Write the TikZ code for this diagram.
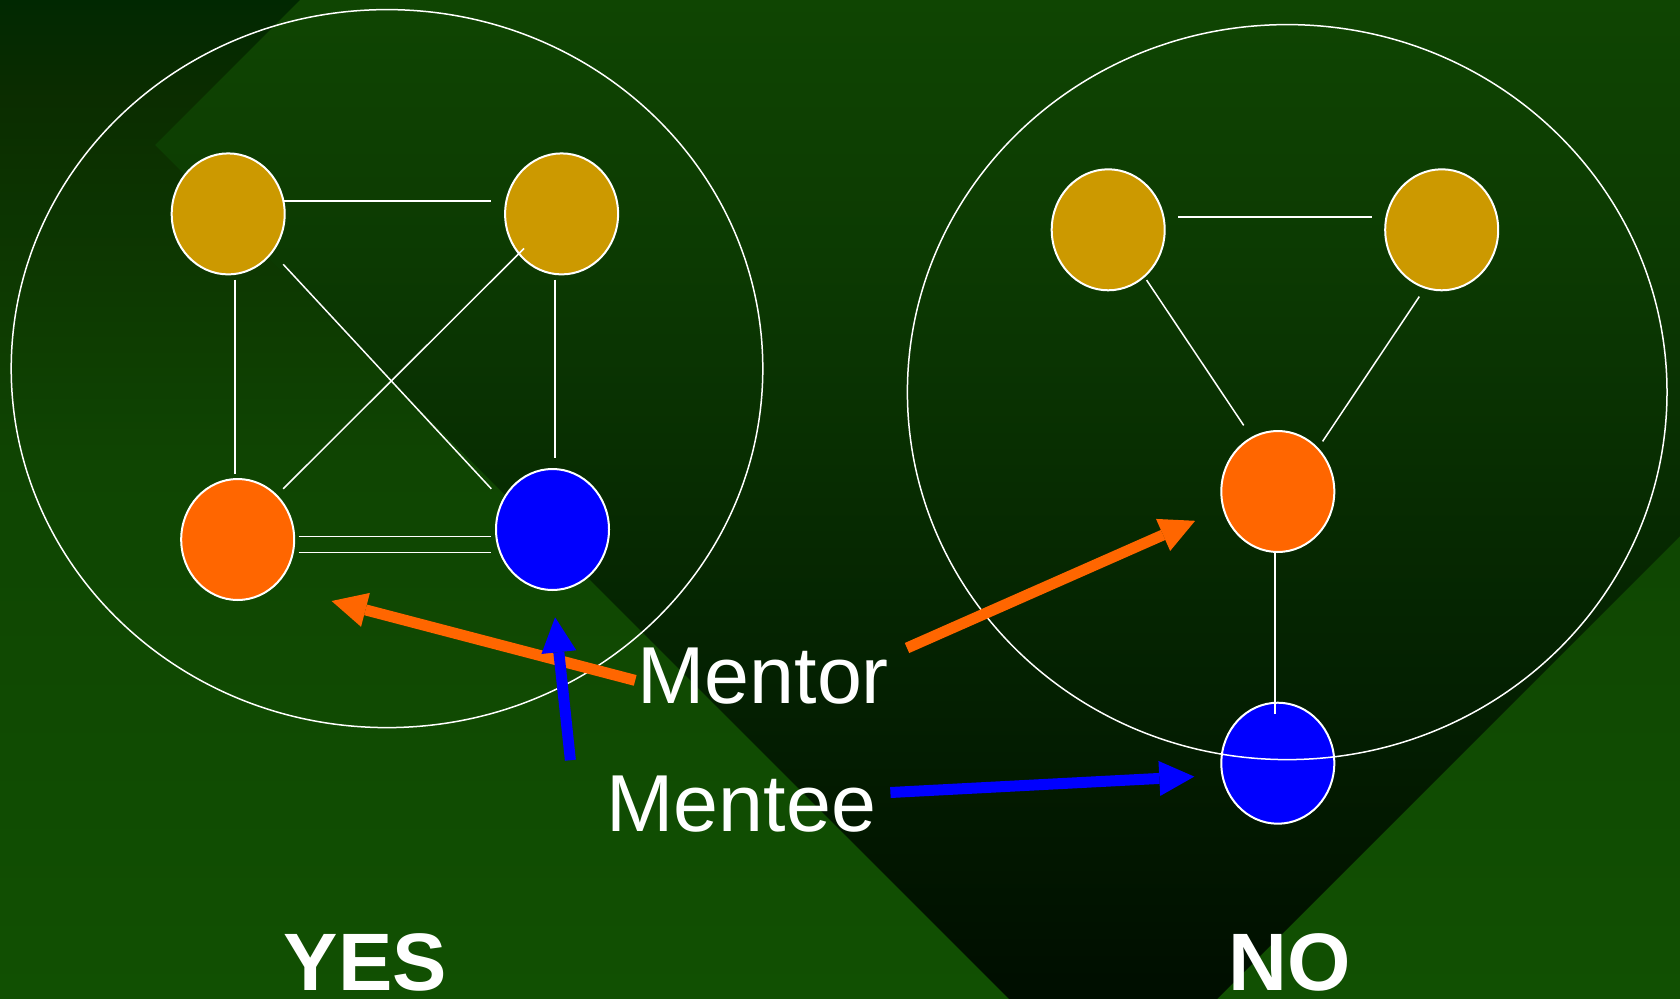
\documentclass[tikz,border=0pt]{standalone}
\usepackage{fontspec}
\setmainfont{Liberation Sans}
\usetikzlibrary{shapes.geometric,arrows.meta,calc}
\definecolor{ob0}{HTML}{115002}
\definecolor{ob1}{HTML}{0F4502}
\definecolor{ob2}{HTML}{0B2D00}
\definecolor{ob3}{HTML}{012801}
\definecolor{ib0}{HTML}{000E00}
\definecolor{ib1}{HTML}{062901}
\definecolor{ib2}{HTML}{0C3A02}
\definecolor{ib3}{HTML}{0F4502}
\definecolor{goldc}{HTML}{CC9900}
\definecolor{orangec}{HTML}{FF6600}
\definecolor{bluec}{HTML}{0000FF}
\pgfdeclareverticalshading{outsh}{100bp}{color(0bp)=(ob0); color(25bp)=(ob0); color(51.6bp)=(ob1); color(70bp)=(ob2); color(75bp)=(ob3); color(100bp)=(ob3)}
\pgfdeclareverticalshading{insh}{100bp}{color(0bp)=(ib0); color(25bp)=(ib0); color(48bp)=(ib1); color(62bp)=(ib2); color(75bp)=(ib3); color(100bp)=(ib3)}
\begin{document}
\begin{tikzpicture}[x=1pt,y=-1pt,
  person/.style={ellipse, draw=white, line width=2pt, minimum width=113pt, minimum height=121pt, inner sep=0pt},
  link/.style={draw=white, line width=1.5pt},
  ring/.style={draw=white, line width=1.5pt},
  pointer/.style={line width=11pt, -{Triangle[length=35pt,width=35pt,line width=0pt]}},
  wordtxt/.style={text=white, inner sep=0pt, font=\fontsize{80.8}{90}\selectfont},
  verdict/.style={text=white, inner sep=0pt, anchor=base, font=\bfseries\fontsize{81.5}{90}\selectfont}]
\useasboundingbox (0,0) rectangle (1680,998);
% background
\shade[shading=outsh] (0,0) rectangle (1680,998);
\begin{scope}
  \clip (155,145) -- (1113,-813) -- (2071,145) -- (1113,1103) -- cycle;
  \shade[shading=insh] (0,0) rectangle (1680,998);
\end{scope}
% left group
\node[person, fill=goldc] (tl) at (228.2,213.9) {};
\node[person, fill=goldc] (tr) at (561.6,213.9) {};
\node[person, fill=orangec] (bl) at (237.7,539.5) {};
\node[person, fill=bluec] (br) at (552.5,529.5) {};
% right group
\node[person, fill=goldc] (gl) at (1108.2,229.8) {};
\node[person, fill=goldc] (gr) at (1441.7,229.8) {};
\node[person, fill=orangec] (om) at (1277.8,491.5) {};
\node[person, fill=bluec] (bm) at (1277.8,763.2) {};
% group rings
\draw[ring] (387,368.6) ellipse [x radius=375.8, y radius=359];
\draw[ring] (1287.2,392.1) ellipse [x radius=379.8, y radius=367.5];
% left links
\draw[link] ($(tl)+(56,-12.9)$) -- ($(tr)+(-70.2,-12.9)$);
\draw[link] ($(tl)+(7,65.7)$) -- ($(bl)+(-2.5,-66)$);
\draw[link] ($(tr)+(-6.5,65.7)$) -- ($(br)+(2.6,-71.3)$);
\draw[link] ($(tl)+(55,50.4)$) -- ($(br)+(-61.2,-40.7)$);
\draw[link] ($(tr)+(-37.6,34.6)$) -- ($(bl)+(45.5,-50.7)$);
\draw[link] ($(bl)+(60.8,-2.8)$) -- ($(br)+(-61.2,7.2)$);
\draw[link] ($(bl)+(60.8,13.1)$) -- ($(br)+(-61.2,23.1)$);
% right links
\draw[link] ($(gl)+(70,-13)$) -- ($(gr)+(-69.7,-13)$);
\draw[link] ($(gl)+(38.4,50.3)$) -- ($(om)+(-34.1,-66.1)$);
\draw[link] ($(gr)+(-22.4,66.8)$) -- ($(om)+(44.8,-50.1)$);
\draw[link] ($(om)+(-2.8,61.8)$) -- ($(bm)+(-2.8,-49.5)$);
% labels
\node[wordtxt, anchor=base west] (mentor) at (637.2,703.3) {Mentor};
\node[wordtxt, anchor=base west] (mentee) at (606.3,831.7) {Mentee};
\node[verdict] (yes) at (365.5,990.5) {YES};
\node[verdict] (no) at (1290,990.5) {NO};
% pointers
\draw[pointer, orangec] ($(mentor.base west)+(-2,-22.9)$) -- ($(bl)+(93.9,61.5)$);
\draw[pointer, orangec] ($(mentor.base west)+(269.8,-55.3)$) -- ($(om)+(-82.7,29.3)$);
\draw[pointer, bluec] ($(mentee.base west)+(-35.9,-71.5)$) -- ($(br)+(2.6,87.8)$);
\draw[pointer, bluec] ($(mentee.base west)+(284.1,-39.2)$) -- ($(bm)+(-83.5,13.4)$);
\end{tikzpicture}
\end{document}
